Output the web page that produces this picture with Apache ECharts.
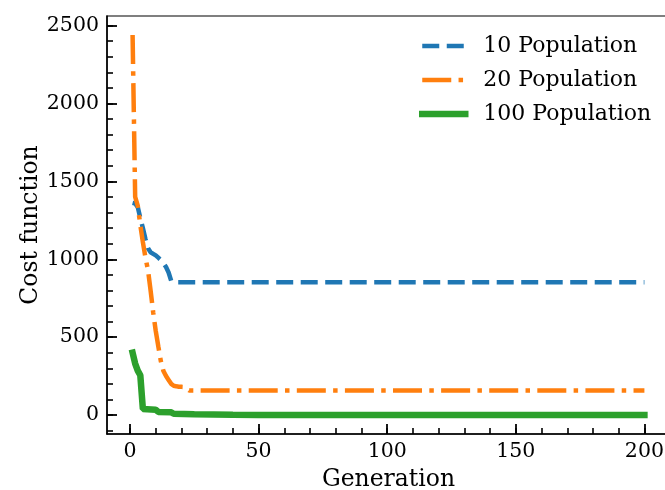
<!DOCTYPE html>
<html>
<head>
<meta charset="utf-8">
<script src="https://cdn.jsdelivr.net/npm/echarts@6/dist/echarts.min.js"></script>
<style>html,body{margin:0;padding:0;background:#fff;}#c{width:665px;height:490px;}</style>
</head>
<body>
<div id="c"></div>
<script>
// Series values as [generation, cost] points
var pop10 = [[1,1362],[2,1358],[3,1335],[4,1265],[5,1200],[6,1130],[7,1070],[8,1045],[9,1035],[10,1025],[11,1010],[12,995],[13,975],[14,950],[15,915],[16,862],[17,853],[200,853]];
var pop20 = [[1,2440],[2,1400],[3,1345],[4,1220],[5,1110],[6,1010],[7,930],[8,800],[9,660],[10,540],[11,440],[12,345],[13,282],[14,250],[15,225],[16,200],[17,188],[18,184],[19,182],[20,181],[21,180],[22,170],[23,157],[200,157]];
var pop100 = [[1,400],[2,330],[3,285],[4,255],[5,38],[10,34],[11,20],[16,17],[17,8],[25,5],[40,1],[50,0],[200,0]];
var seriesNames = ['10 Population', '20 Population', '100 Population'];
var xMajor = [0, 50, 100, 150, 200];
var xMinor = [0,10,20,30,40,50,60,70,80,90,100,110,120,130,140,150,160,170,180,190,200];
var yMajor = [0, 500, 1000, 1500, 2000, 2500];
var yMinor = [-100,0,100,200,300,400,500,600,700,800,900,1000,1100,1200,1300,1400,1500,1600,1700,1800,1900,2000,2100,2200,2300,2400,2500];

var FONT = 'DejaVu Serif';
var colors = ['#1f77b4', '#ff7f0e', '#2ca02c'];
var styles = [
  {width: 4.5, type: [17, 7.5], cap: 'butt'},
  {width: 4.5, type: [29, 7.3, 4.5, 7.3], cap: 'butt'},
  {width: 6.5, type: 'solid', cap: 'square'}
];
var chart = echarts.init(document.getElementById('c'), null, {renderer: 'canvas'});
var xr = {min: -8.95, max: 209.95};
var yr = {min: -122, max: 2562};
function plain(v) { return String(v); }
chart.setOption({
  animation: false,
  backgroundColor: '#fff',
  grid: {left: 107, right: -5, top: 16, bottom: 56, show: true, borderColor: '#000', borderWidth: 1.2,
         backgroundColor: 'transparent', containLabel: false, outerBoundsMode: 'none'},
  legend: {
    orient: 'vertical', left: 419, top: 35, padding: 0,
    itemWidth: 43, itemHeight: 20, itemGap: 12,
    data: seriesNames.map(function (n, i) {
      return {name: n, itemStyle: {opacity: 0},
              lineStyle: {color: colors[i], width: styles[i].width, type: styles[i].type, cap: styles[i].cap}};
    }),
    textStyle: {fontFamily: FONT, fontSize: 22, color: '#000', padding: [0, 0, 0, 13]}
  },
  xAxis: [
    {type: 'value', min: xr.min, max: xr.max, position: 'bottom',
     name: 'Generation', nameLocation: 'middle', nameGap: 34, nameMoveOverlap: false,
     nameTextStyle: {fontFamily: FONT, fontSize: 23.5, color: '#000'},
     axisLine: {show: true, onZero: false, lineStyle: {color: '#000', width: 1.5}},
     axisTick: {show: true, inside: true, length: 10, lineStyle: {color: '#000', width: 1.8}, customValues: xMajor},
     axisLabel: {show: true, customValues: xMajor, formatter: plain, fontFamily: FONT, fontSize: 20.5, color: '#000', margin: 7},
     splitLine: {show: false}},
    {type: 'value', min: xr.min, max: xr.max, position: 'bottom',
     axisLine: {show: false, onZero: false},
     axisTick: {show: true, inside: true, length: 6, lineStyle: {color: '#000', width: 1.6}, customValues: xMinor},
     axisLabel: {show: false}, splitLine: {show: false}}
  ],
  yAxis: [
    {type: 'value', min: yr.min, max: yr.max, position: 'left',
     name: 'Cost function', nameLocation: 'middle', nameGap: 64, nameRotate: 90, nameMoveOverlap: false,
     nameTextStyle: {fontFamily: FONT, fontSize: 23.5, color: '#000'},
     axisLine: {show: true, onZero: false, lineStyle: {color: '#000', width: 1.5}},
     axisTick: {show: true, inside: true, length: 10, lineStyle: {color: '#000', width: 1.8}, customValues: yMajor},
     axisLabel: {show: true, customValues: yMajor, formatter: plain, fontFamily: FONT, fontSize: 20.5, color: '#000', margin: 8},
     splitLine: {show: false}},
    {type: 'value', min: yr.min, max: yr.max, position: 'left',
     axisLine: {show: false, onZero: false},
     axisTick: {show: true, inside: true, length: 6, lineStyle: {color: '#000', width: 1.6}, customValues: yMinor},
     axisLabel: {show: false}, splitLine: {show: false}}
  ],
  series: [pop10, pop20, pop100].map(function (d, i) {
    return {name: seriesNames[i], type: 'line', data: d, showSymbol: false, symbol: 'none',
            color: colors[i],
            lineStyle: {color: colors[i], width: styles[i].width, type: styles[i].type, cap: styles[i].cap}};
  })
});
</script>
</body>
</html>
